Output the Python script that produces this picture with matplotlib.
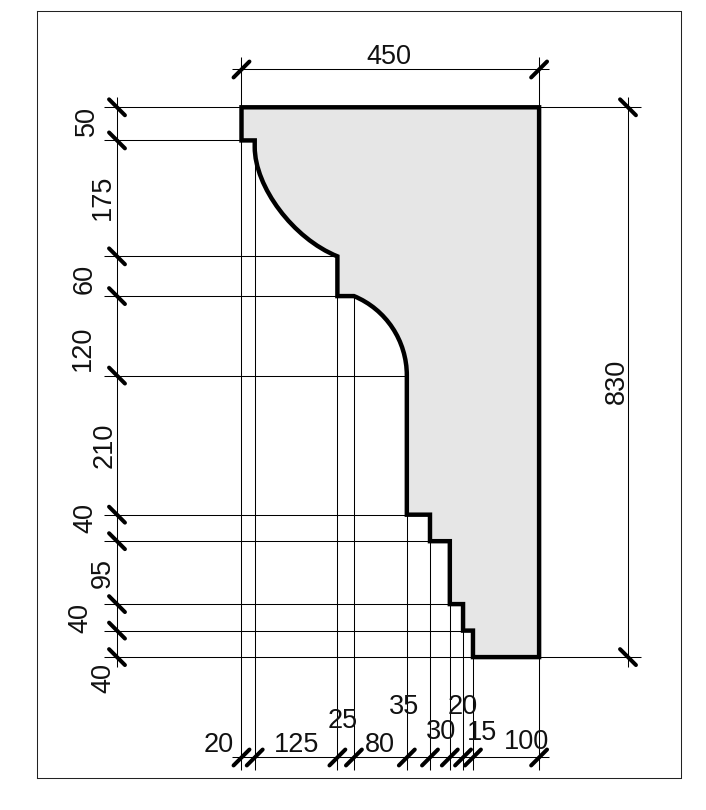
import numpy as np
import matplotlib
matplotlib.use("Agg")
import matplotlib.pyplot as plt
from matplotlib.path import Path
from matplotlib.patches import PathPatch
from matplotlib.transforms import IdentityTransform

plt.rcParams['font.family'] = ['Liberation Sans', 'DejaVu Sans']

# dimensions of the moulding
widths = [20, 125, 25, 80, 35, 30, 20, 15, 100]
heights = [50, 175, 60, 120, 210, 40, 95, 40, 40]
total_width = 450
total_height = 830

xs = np.concatenate([[0], np.cumsum(widths)])
ys = np.concatenate([[0], np.cumsum(heights)])

# which height each vertical witness line starts from, and which x each horizontal one runs to
v_start = [0, 1, 3, 3, 5, 6, 7, 8, 9, 0]
h_end = [9, 1, 2, 2, 4, 4, 5, 6, 7, 9]

# pixel layout
W, H = 706, 810
frame = (37, 11, 680.5, 778)
x0_px, y0_px = 241.5, 107.3
sx = 297.6 / total_width
sy = 549.8 / total_height

fig = plt.figure(figsize=(W / 100, H / 100), dpi=100)
ax = fig.add_axes([frame[0] / W, 1 - frame[3] / H, (frame[2] - frame[0]) / W, (frame[3] - frame[1]) / H])
ax.set_xlim((frame[0] - x0_px) / sx, (frame[2] - x0_px) / sx)
ax.set_ylim((frame[3] - y0_px) / sy, (frame[1] - y0_px) / sy)
ax.set_xticks([])
ax.set_yticks([])
for s in ax.spines.values():
    s.set_linewidth(0.75)
    s.set_color('#222222')


def mx(px):
    return (px - x0_px) / sx


def my(px):
    return (px - y0_px) / sy


# profile outline, the two coves are cubic curves with a short straight lead in on the first
verts = [
    (xs[0], ys[0]), (xs[0], ys[1]), (xs[1], ys[1]), (xs[1], ys[1] + 10),
    (xs[1], 120), (78, 198), (xs[2], ys[2]),
    (xs[2], ys[3]), (xs[3], ys[3]),
    (218.5, 305), (xs[4], 352.5), (xs[4], ys[4]),
    (xs[4], ys[5]), (xs[5], ys[5]), (xs[5], ys[6]), (xs[6], ys[6]),
    (xs[6], ys[7]), (xs[7], ys[7]), (xs[7], ys[8]), (xs[8], ys[8]),
    (xs[8], ys[9]), (xs[9], ys[9]), (xs[9], ys[0]), (xs[0], ys[0]),
]
codes = [Path.MOVETO, Path.LINETO, Path.LINETO, Path.LINETO,
         Path.CURVE4, Path.CURVE4, Path.CURVE4,
         Path.LINETO, Path.LINETO,
         Path.CURVE4, Path.CURVE4, Path.CURVE4] + [Path.LINETO] * 11 + [Path.CLOSEPOLY]
profile = Path(verts, codes)
ax.add_patch(PathPatch(profile, facecolor='#e6e6e6', edgecolor='none', zorder=1))

thin = dict(color='black', lw=0.75, zorder=2, solid_capstyle='butt')

# witness lines
bottom_end = my(770)
for x, i in zip(xs, v_start):
    top = my(57) if i == 0 else ys[i]
    ax.plot([x, x], [top, bottom_end], **thin)

left_end = mx(104)
right_end = mx(641)
for y, j in zip(ys, h_end):
    end = right_end if j == 9 else xs[j]
    ax.plot([left_end, end], [y, y], **thin)

# dimension lines
x_left_dim = mx(117)
x_right_dim = mx(628)
y_top_dim = my(69.5)
y_bot_dim = my(757.5)
ax.plot([x_left_dim, x_left_dim], [my(97), my(667)], **thin)
ax.plot([x_right_dim, x_right_dim], [my(97), my(667)], **thin)
ax.plot([mx(232), mx(549)], [y_top_dim, y_top_dim], **thin)
ax.plot([mx(232), mx(549)], [y_bot_dim, y_bot_dim], **thin)

ax.add_patch(PathPatch(profile, facecolor='none', edgecolor='black', lw=3.2,
                       joinstyle='miter', zorder=3))

# slashes
tick = 12
slash = dict(color='black', lw=2.9, solid_capstyle='round', zorder=4)
for y in ys:
    ax.plot([x_left_dim - tick, x_left_dim + tick], [y - tick, y + tick], **slash)
for y in [ys[0], ys[-1]]:
    ax.plot([x_right_dim - tick, x_right_dim + tick], [y - tick, y + tick], **slash)
for x in xs:
    ax.plot([x - tick, x + tick], [y_bot_dim + tick, y_bot_dim - tick], **slash)
for x in [xs[0], xs[-1]]:
    ax.plot([x - tick, x + tick], [y_top_dim + tick, y_top_dim - tick], **slash)

# label positions in pixels, from the top left corner of the picture
bottom_pos = [(219, 745), (297, 745), (343, 721), (380, 745), (404, 707),
              (441, 732), (463, 707), (482, 733), (526, 742)]
left_pos = [(87, 121), (103, 197), (85, 279), (83, 348), (105, 445),
            (85, 518), (103, 573), (80, 618), (103, 678)]
fs = 19.5
id_tf = IdentityTransform()
for val, (px, py) in zip(widths, bottom_pos):
    ax.text(px, H - py, str(val), transform=id_tf, ha='center', va='center', fontsize=fs, color='#111111')
for val, (px, py) in zip(heights, left_pos):
    ax.text(px, H - py, str(val), transform=id_tf, ha='center', va='center', rotation=90, fontsize=fs, color='#111111')
ax.text(389, H - 57, str(total_width), transform=id_tf, ha='center', va='center', fontsize=fs, color='#111111')
ax.text(617, H - 381, str(total_height), transform=id_tf, ha='center', va='center', rotation=90, fontsize=fs, color='#111111')

fig.savefig('out.png', dpi=100, facecolor='white')
